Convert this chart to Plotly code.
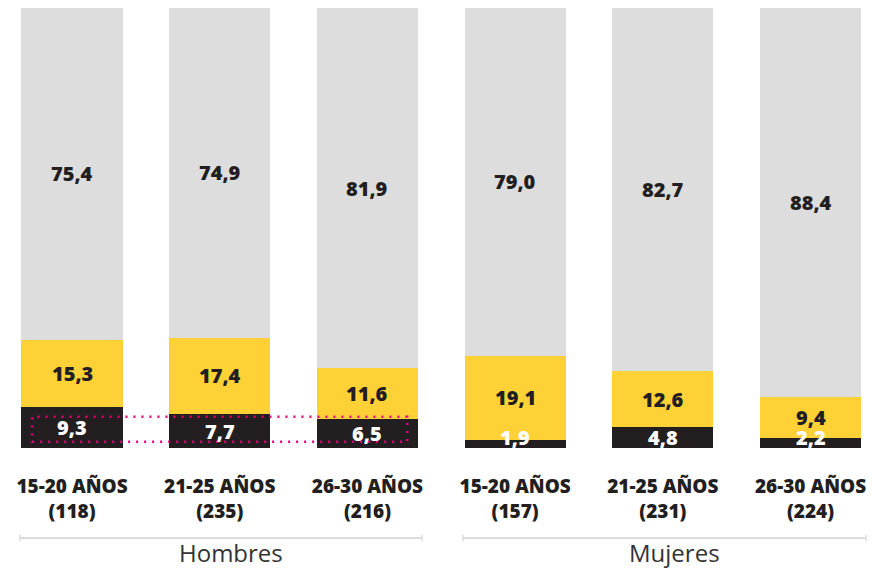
import plotly.graph_objects as go

categories = ["15-20 AÑOS<br>(118)", "21-25 AÑOS<br>(235)", "26-30 AÑOS<br>(216)",
              "15-20 AÑOS<br>(157)", "21-25 AÑOS<br>(231)", "26-30 AÑOS<br>(224)"]
dark_vals = [9.3, 7.7, 6.5, 1.9, 4.8, 2.2]
yellow_vals = [15.3, 17.4, 11.6, 19.1, 12.6, 9.4]
gray_vals = [75.4, 74.9, 81.9, 79.0, 82.7, 88.4]
groups = ["Hombres", "Mujeres"]

DARK = "#231f20"
YELLOW = "#fed236"
GRAY = "#dddddd"
FONT = "Open Sans"

fig = go.Figure()
for vals, col in [(dark_vals, DARK), (yellow_vals, YELLOW), (gray_vals, GRAY)]:
    fig.add_trace(go.Bar(x=categories, y=vals, marker=dict(color=col, line=dict(width=0)),
                         width=0.685, hoverinfo="skip", showlegend=False))

def fmt(v):
    return f"{v:.1f}".replace(".", ",")

annotations = []
for i, cat in enumerate(categories):
    base = 0
    for vals, tcol in [(dark_vals, "white"), (yellow_vals, DARK), (gray_vals, DARK)]:
        v = vals[i]
        mid = base + v / 2
        shift = 6 if v < 3 else 0
        annotations.append(dict(x=i, y=mid, xref="x", yref="y", text=fmt(v), showarrow=False,
                                yshift=shift,
                                font=dict(family=FONT, size=20, color=tcol, weight=800)))
        base += v

# group labels and brackets
shapes = []
brackets = [(-0.352, 2.37), (2.647, 5.376)]
for (x0, x1), g in zip(brackets, groups):
    shapes.append(dict(type="line", xref="x", yref="paper", x0=x0, x1=x1, y0=-0.2045, y1=-0.2045,
                       line=dict(color="#dcdcdc", width=2)))
    for xx in (x0, x1):
        shapes.append(dict(type="line", xref="x", yref="paper", x0=xx, x1=xx, y0=-0.197, y1=-0.212,
                           line=dict(color="#dcdcdc", width=1.5)))
    annotations.append(dict(x=(x0 + x1) / 2 + 0.07, y=-0.237, xref="x", yref="paper", text=g,
                            showarrow=False, yanchor="middle",
                            font=dict(family=FONT, size=24, color="#333333")))

# dotted highlight rectangle around dark segments of first group
shapes.append(dict(type="rect", xref="x", yref="y", x0=-0.27, x1=2.27, y0=1.43, y1=7.1,
                   line=dict(color="#e6007e", width=2.5, dash="2px,6px"), fillcolor="rgba(0,0,0,0)",
                   layer="above"))

fig.update_layout(
    barmode="stack",
    width=872, height=568,
    margin=dict(l=0, r=0, t=8, b=120),
    plot_bgcolor="white", paper_bgcolor="white",
    annotations=annotations, shapes=shapes,
    xaxis=dict(type="category", range=[-0.4875, 5.416], showgrid=False, zeroline=False,
               showline=False, ticks="", ticklabelstandoff=25,
               tickfont=dict(family=FONT, size=19, color=DARK, weight=800)),
    yaxis=dict(range=[0, 100], visible=False),
)

fig.write_html("out.html", config={"displayModeBar": False},
               post_script="document.body.style.margin='0';document.body.style.overflow='hidden';")
